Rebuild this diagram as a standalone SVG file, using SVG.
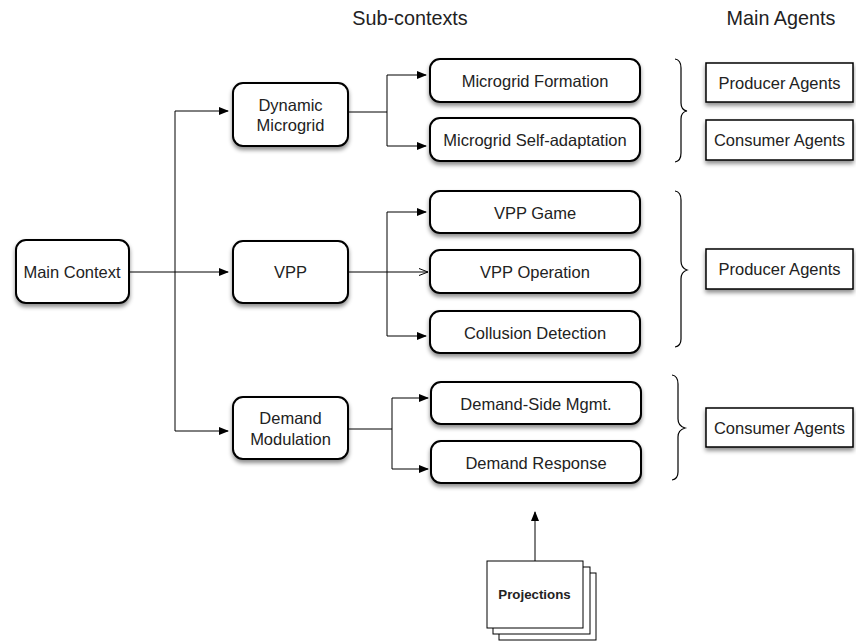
<svg xmlns="http://www.w3.org/2000/svg" width="856" height="641" viewBox="0 0 856 641">
  <style>
    .box { fill: #fff; stroke: #000; stroke-width: 2; filter: url(#shadow); }
    .agent { fill: #fff; stroke: #000; stroke-width: 1.5; filter: url(#shadow); }
    .page { fill: #fff; stroke: #000; stroke-width: 1; }
    .lbl { font-family: "Liberation Sans", Arial, sans-serif; font-size: 16.5px; fill: #222; text-anchor: middle; }
    .hdr { font-family: "Liberation Sans", Arial, sans-serif; font-size: 19.8px; fill: #222; text-anchor: middle; }
    .bold { font-family: "Liberation Sans", Arial, sans-serif; font-size: 13.3px; font-weight: bold; fill: #222; text-anchor: middle; }
    .wire { fill: none; stroke: #000; stroke-width: 1; }
    .brace { fill: none; stroke: #000; stroke-width: 1.2; }
  </style>
  <defs>
    <filter id="shadow" x="-20%" y="-20%" width="140%" height="160%">
      <feDropShadow dx="0" dy="3" stdDeviation="2" flood-color="#000" flood-opacity="0.45"/>
    </filter>
    <marker id="arrow" markerWidth="10" markerHeight="8" refX="9" refY="4" orient="auto" markerUnits="userSpaceOnUse">
      <path d="M0,0 L10,4 L0,8 Z" fill="#000"/>
    </marker>
    <marker id="open" markerWidth="10" markerHeight="8" refX="9" refY="4" orient="auto" markerUnits="userSpaceOnUse">
      <path d="M0,0.5 L9,4 L0,7.5" fill="none" stroke="#000" stroke-width="1"/>
    </marker>
  </defs>

  <!-- column headings -->
  <text class="hdr" x="410" y="25">Sub-contexts</text>
  <text class="hdr" x="781" y="25">Main Agents</text>

  <!-- connectors -->
  <g id="connectors">
    <path class="wire" d="M129,272 H228" marker-end="url(#arrow)"/>
    <path class="wire" d="M175,431 V111 H228" marker-end="url(#arrow)"/>
    <path class="wire" d="M175,431 H228" marker-end="url(#arrow)"/>

    <path class="wire" d="M348,112 H387"/>
    <path class="wire" d="M387,112 V75 H426" marker-end="url(#arrow)"/>
    <path class="wire" d="M387,112 V146 H426" marker-end="url(#arrow)"/>

    <path class="wire" d="M348,272 H428" marker-end="url(#open)"/>
    <path class="wire" d="M387,212 V336" />
    <path class="wire" d="M387,212 H426" marker-end="url(#arrow)"/>
    <path class="wire" d="M387,336 H426" marker-end="url(#arrow)"/>

    <path class="wire" d="M348,429 H392"/>
    <path class="wire" d="M392,429 V398 H428" marker-end="url(#arrow)"/>
    <path class="wire" d="M392,429 V469 H428" marker-end="url(#arrow)"/>

    <path class="wire" d="M535,561 V512" marker-end="url(#arrow)"/>
  </g>

  <!-- main context -->
  <g id="main-context">
    <rect class="box" x="16" y="240" width="113" height="63" rx="10"/>
    <text class="lbl" x="72" y="278">Main Context</text>
  </g>

  <!-- contexts -->
  <g id="dynamic-microgrid">
    <rect class="box" x="233" y="83" width="115" height="63" rx="10"/>
    <text class="lbl" x="290.5" y="111">Dynamic</text>
    <text class="lbl" x="290.5" y="131">Microgrid</text>
  </g>
  <g id="vpp">
    <rect class="box" x="233" y="241" width="115" height="62" rx="10"/>
    <text class="lbl" x="290.5" y="278">VPP</text>
  </g>
  <g id="demand-modulation">
    <rect class="box" x="233" y="397" width="115" height="62" rx="10"/>
    <text class="lbl" x="290.5" y="424">Demand</text>
    <text class="lbl" x="290.5" y="445">Modulation</text>
  </g>

  <!-- sub-contexts -->
  <g id="microgrid-formation">
    <rect class="box" x="430" y="59" width="210" height="43" rx="10"/>
    <text class="lbl" x="535" y="87">Microgrid Formation</text>
  </g>
  <g id="microgrid-self-adaptation">
    <rect class="box" x="430" y="118" width="210" height="43" rx="10"/>
    <text class="lbl" x="535" y="146">Microgrid Self-adaptation</text>
  </g>
  <g id="vpp-game">
    <rect class="box" x="430" y="191" width="210" height="42" rx="10"/>
    <text class="lbl" x="535" y="218.5">VPP Game</text>
  </g>
  <g id="vpp-operation">
    <rect class="box" x="430" y="250" width="210" height="43" rx="10"/>
    <text class="lbl" x="535" y="278">VPP Operation</text>
  </g>
  <g id="collusion-detection">
    <rect class="box" x="430" y="311" width="210" height="42" rx="10"/>
    <text class="lbl" x="535" y="338.5">Collusion Detection</text>
  </g>
  <g id="demand-side-mgmt">
    <rect class="box" x="431" y="382" width="210" height="42" rx="10"/>
    <text class="lbl" x="536" y="409.5">Demand-Side Mgmt.</text>
  </g>
  <g id="demand-response">
    <rect class="box" x="431" y="441" width="210" height="42" rx="10"/>
    <text class="lbl" x="536" y="468.5">Demand Response</text>
  </g>

  <!-- braces -->
  <g id="braces">
    <path class="brace" d="M675,59 Q681,60 681,68 V103 Q681,110 687,111 Q681,112 681,119 V153 Q681,161 675,162"/>
    <path class="brace" d="M675,191 Q681,192 681,200 V261 Q681,268 687,270 Q681,272 681,279 V339 Q681,346 675,347"/>
    <path class="brace" d="M672,375 Q678,376 678,384 V419 Q678,426 685,428 Q678,430 678,437 V472 Q678,479 672,480"/>
  </g>

  <!-- agents -->
  <g id="producer-agents-1">
    <rect class="agent" x="706" y="63" width="147" height="39"/>
    <text class="lbl" x="779.5" y="88.5">Producer Agents</text>
  </g>
  <g id="consumer-agents-1">
    <rect class="agent" x="706" y="120" width="147" height="40"/>
    <text class="lbl" x="779.5" y="146">Consumer Agents</text>
  </g>
  <g id="producer-agents-2">
    <rect class="agent" x="706" y="249" width="147" height="40"/>
    <text class="lbl" x="779.5" y="275">Producer Agents</text>
  </g>
  <g id="consumer-agents-2">
    <rect class="agent" x="706" y="408" width="147" height="39"/>
    <text class="lbl" x="779.5" y="433.5">Consumer Agents</text>
  </g>

  <!-- projections document stack -->
  <g id="projections">
    <rect class="page" x="499" y="573" width="97" height="67"/>
    <rect class="page" x="493" y="567" width="97" height="67"/>
    <rect class="page" x="487" y="561" width="96" height="67"/>
    <text class="bold" x="534.5" y="599">Projections</text>
  </g>
</svg>
